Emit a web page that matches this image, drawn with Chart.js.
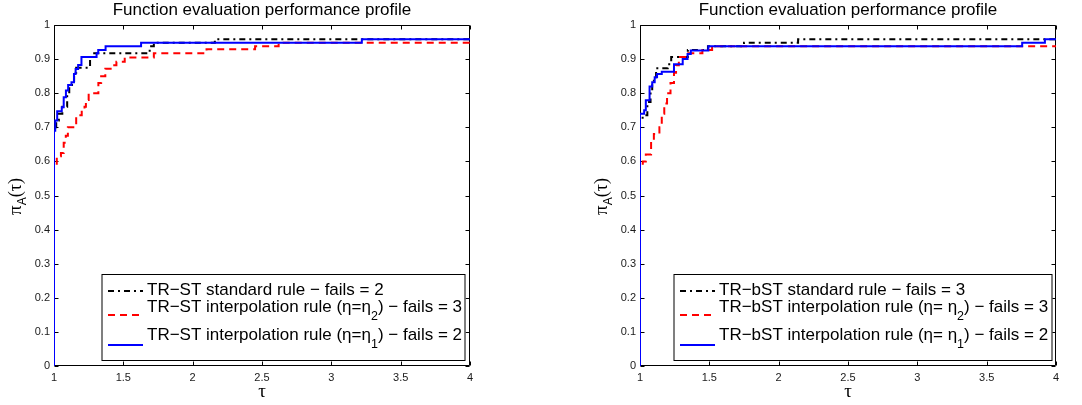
<!DOCTYPE html>
<html><head><meta charset="utf-8">
<script src="https://cdn.jsdelivr.net/npm/chart.js@4.4.0/dist/chart.umd.min.js"></script>
<style>
html,body{margin:0;padding:0;background:#fff;}
#wrap{position:relative;width:1082px;height:405px;overflow:hidden;}
.c{position:absolute;top:0;width:541px;height:405px;}
canvas{display:block;}
</style></head><body>
<div id="wrap">
<div class="c" style="left:0"><canvas id="c1" width="541" height="405"></canvas></div>
<div class="c" style="left:541px"><canvas id="c2" width="541" height="405"></canvas></div>
</div>
<script>
// ---- shared ticks / texts ----
const xTickValues = [1, 1.5, 2, 2.5, 3, 3.5, 4];
const xTickLabels = ['1', '1.5', '2', '2.5', '3', '3.5', '4'];
const yTickValues = [0, 0.1, 0.2, 0.3, 0.4, 0.5, 0.6, 0.7, 0.8, 0.9, 1];
const yTickLabels = ['0', '0.1', '0.2', '0.3', '0.4', '0.5', '0.6', '0.7', '0.8', '0.9', '1'];
const titleText = 'Function evaluation performance profile';
const xAxisLabel = 'τ';

// ---- left panel (TR-ST) ----
const L_stdTau  = [1, 1, 1.016, 1.035, 1.06, 1.095, 1.11, 1.13, 1.145, 1.16, 1.26, 1.29, 1.69, 1.72, 2.16, 4];
const L_stdVal  = [0, 0.69, 0.72, 0.74, 0.76, 0.795, 0.82, 0.835, 0.86, 0.875, 0.906, 0.917, 0.938, 0.948, 0.958, 0.958];
const L_int2Tau = [1, 1, 1.02, 1.05, 1.07, 1.085, 1.10, 1.16, 1.20, 1.22, 1.23, 1.25, 1.32, 1.34, 1.37, 1.42, 1.45, 1.51, 1.72, 2.10, 2.45, 2.62, 4];
const L_int2Val = [0, 0.59, 0.615, 0.625, 0.655, 0.675, 0.70, 0.735, 0.75, 0.76, 0.78, 0.80, 0.83, 0.85, 0.872, 0.882, 0.892, 0.905, 0.917, 0.929, 0.938, 0.948, 0.948];
const L_int1Tau = [1, 1, 1.009, 1.023, 1.056, 1.07, 1.086, 1.102, 1.126, 1.144, 1.156, 1.174, 1.198, 1.307, 1.319, 1.372, 1.628, 3.22, 4];
const L_int1Val = [0, 0.69, 0.72, 0.747, 0.759, 0.788, 0.808, 0.824, 0.832, 0.856, 0.871, 0.883, 0.906, 0.917, 0.927, 0.938, 0.948, 0.958, 0.958];
const L_legend = [
  [['TR−ST standard rule − fails = 2', 0]],
  [['TR−ST interpolation rule (η=η', 0], ['2', 1], [') − fails = 3', 0]],
  [['TR−ST interpolation rule (η=η', 0], ['1', 1], [') − fails = 2', 0]]
];

// ---- right panel (TR-bST) ----
const R_stdTau  = [1, 1, 1.019, 1.053, 1.076, 1.088, 1.10, 1.116, 1.20, 1.225, 1.345, 1.49, 1.75, 2.14, 4];
const R_stdVal  = [0, 0.72, 0.735, 0.774, 0.803, 0.827, 0.847, 0.873, 0.885, 0.906, 0.927, 0.938, 0.948, 0.958, 0.958];
const R_int2Tau = [1, 1, 1.02, 1.042, 1.08, 1.10, 1.14, 1.157, 1.175, 1.195, 1.22, 1.245, 1.26, 1.28, 1.34, 1.45, 1.52, 4];
const R_int2Val = [0, 0.59, 0.60, 0.62, 0.66, 0.68, 0.70, 0.74, 0.77, 0.80, 0.83, 0.86, 0.882, 0.906, 0.917, 0.927, 0.938, 0.938];
const R_int1Tau = [1, 1, 1.03, 1.042, 1.069, 1.088, 1.106, 1.123, 1.157, 1.245, 1.308, 1.343, 1.366, 1.493, 3.756, 3.92, 4];
const R_int1Val = [0, 0.74, 0.75, 0.779, 0.82, 0.832, 0.847, 0.856, 0.863, 0.885, 0.90, 0.915, 0.925, 0.938, 0.948, 0.958, 0.958];
const R_legend = [
  [['TR−bST standard rule − fails = 3', 0]],
  [['TR−bST interpolation rule (η= η', 0], ['2', 1], [') − fails = 3', 0]],
  [['TR−bST interpolation rule (η= η', 0], ['1', 1], [') − fails = 2', 0]]
];

// ---- styles ----
const SANS = '"Liberation Sans", Arial, Helvetica, sans-serif';
const SERIF = '"Liberation Serif", "Times New Roman", serif';
const styleStd  = {color: '#000000', dash: [6, 4, 2, 4], width: 2};
const styleInt2 = {color: '#ff0000', dash: [7, 5], width: 2};
const styleInt1 = {color: '#0000ff', dash: [], width: 2};

function pts(t, v) { return t.map((x, i) => ({x: x, y: v[i]})); }

function ds(data, st) {
  return {data: data, showLine: true, stepped: 'before', pointRadius: 0, pointHoverRadius: 0,
    borderColor: st.color, backgroundColor: st.color, borderWidth: st.width, borderDash: st.dash, fill: false};
}

function drawRich(ctx, parts, x, y, size, subSize, subDy) {
  let cx = x;
  for (const [t, sub] of parts) {
    ctx.font = (sub ? subSize : size) + 'px ' + SANS;
    ctx.fillText(t, cx, sub ? y + subDy : y);
    cx += ctx.measureText(t).width;
  }
}

function decor(cfg) {
  return {
    id: 'decor',
    beforeDatasetsDraw(chart) {
      const ctx = chart.ctx, a = chart.chartArea;
      const sx = chart.scales.x, sy = chart.scales.y;
      ctx.save();
      ctx.strokeStyle = '#000'; ctx.lineWidth = 1; ctx.setLineDash([]);
      const L = Math.round(a.left) + 0.5, R = Math.round(a.right) - 0.5, T = Math.round(a.top) + 0.5, B = Math.round(a.bottom) - 0.5;
      ctx.beginPath();
      ctx.rect(L, T, R - L, B - T);
      const tl = 4;
      xTickValues.forEach(v => {
        const px = Math.round(sx.getPixelForValue(v)) + 0.5;
        ctx.moveTo(px, B); ctx.lineTo(px, B - tl);
        ctx.moveTo(px, T); ctx.lineTo(px, T + tl);
      });
      yTickValues.forEach(v => {
        const py = Math.round(sy.getPixelForValue(v)) + 0.5;
        ctx.moveTo(L, py); ctx.lineTo(L + tl, py);
        ctx.moveTo(R, py); ctx.lineTo(R - tl, py);
      });
      ctx.stroke();
      ctx.restore();
    },
    afterDraw(chart) {
      const ctx = chart.ctx, a = chart.chartArea;
      ctx.save();
      ctx.fillStyle = '#000';
      const cxm = (a.left + a.right) / 2;
      // title
      ctx.font = '17px ' + SANS; ctx.textAlign = 'center'; ctx.textBaseline = 'alphabetic';
      ctx.fillText(titleText, cxm, 15);
      // x label
      ctx.font = '19px ' + SERIF;
      ctx.fillText(xAxisLabel, cxm, 397);
      // y label  pi_A(tau)
      ctx.save();
      ctx.translate(cfg.yLabX, 196.5);
      ctx.rotate(-Math.PI / 2);
      ctx.textAlign = 'left';
      ctx.font = '19px ' + SERIF; const w1 = ctx.measureText('π').width;
      ctx.font = '12px ' + SANS;  const w2 = ctx.measureText('A').width;
      ctx.font = '18px ' + SERIF; const w3 = ctx.measureText('(τ)').width;
      let x0 = -(w1 + w2 + w3) / 2;
      ctx.font = '19px ' + SERIF; ctx.fillText('π', x0, 0);
      ctx.font = '12px ' + SANS;  ctx.fillText('A', x0 + w1, 4.5);
      ctx.font = '18px ' + SERIF; ctx.fillText('(τ)', x0 + w1 + w2, 0);
      ctx.restore();

      // legend
      const lb = cfg.legendBox;
      ctx.fillStyle = '#fff';
      ctx.fillRect(lb.x, lb.y, lb.w, lb.h);
      ctx.strokeStyle = '#000'; ctx.lineWidth = 1;
      ctx.strokeRect(lb.x + 0.5, lb.y + 0.5, lb.w - 1, lb.h - 1);
      const styles = [styleStd, styleInt2, styleInt1];
      const lineY = [291, 315, 345];
      const textY = [295, 312, 340];
      ctx.textAlign = 'left';
      styles.forEach((st, i) => {
        ctx.beginPath();
        ctx.strokeStyle = st.color; ctx.lineWidth = st.width; ctx.setLineDash(st.dash);
        ctx.moveTo(lb.x + 6.5, lineY[i]); ctx.lineTo(lb.x + 41.5, lineY[i]);
        ctx.stroke();
        ctx.setLineDash([]);
        ctx.fillStyle = '#000';
        drawRich(ctx, cfg.legend[i], lb.x + 45.5, textY[i], 17, 12.5, 7.5);
      });
      ctx.restore();
    }
  };
}

function makeChart(id, sets, pad, legend, legendBox, yLabX) {
  const tickFont = {family: SANS, size: 11};
  return new Chart(document.getElementById(id), {
    type: 'scatter',
    data: {datasets: sets},
    options: {
      responsive: false, animation: false, devicePixelRatio: 1,
      layout: {padding: pad},
      plugins: {legend: {display: false}, tooltip: {enabled: false}, title: {display: false}},
      elements: {line: {tension: 0}},
      scales: {
        x: {
          type: 'linear', min: 1, max: 4,
          afterBuildTicks: s => { s.ticks = xTickValues.map(v => ({value: v})); },
          afterFit: s => { s.height = 39; },
          ticks: {font: tickFont, color: '#1a1a1a', padding: 5, maxRotation: 0, autoSkip: false,
                  callback: (v, i) => xTickLabels[i]},
          grid: {display: false, drawTicks: false}, border: {display: false}
        },
        y: {
          type: 'linear', min: 0, max: 1,
          afterBuildTicks: s => { s.ticks = yTickValues.map(v => ({value: v})); },
          afterFit: s => { s.width = 54; },
          ticks: {font: tickFont, color: '#1a1a1a', padding: 4, autoSkip: false,
                  callback: (v, i) => yTickLabels[i]},
          grid: {display: false, drawTicks: false}, border: {display: false}
        }
      }
    },
    plugins: [decor({legend: legend, legendBox: legendBox, yLabX: yLabX})]
  });
}

makeChart('c1', [
  ds(pts(L_int1Tau, L_int1Val), styleInt1),
  ds(pts(L_int2Tau, L_int2Val), styleInt2),
  ds(pts(L_stdTau, L_stdVal), styleStd)
], {left: 0, top: 25, right: 71, bottom: 0}, L_legend, {x: 101.5, y: 274, w: 364, h: 87}, 21);

makeChart('c2', [
  ds(pts(R_int1Tau, R_int1Val), styleInt1),
  ds(pts(R_int2Tau, R_int2Val), styleInt2),
  ds(pts(R_stdTau, R_stdVal), styleStd)
], {left: 45, top: 25, right: 26, bottom: 0}, R_legend, {x: 132.5, y: 274, w: 379, h: 87}, 66);
</script>
</body></html>
